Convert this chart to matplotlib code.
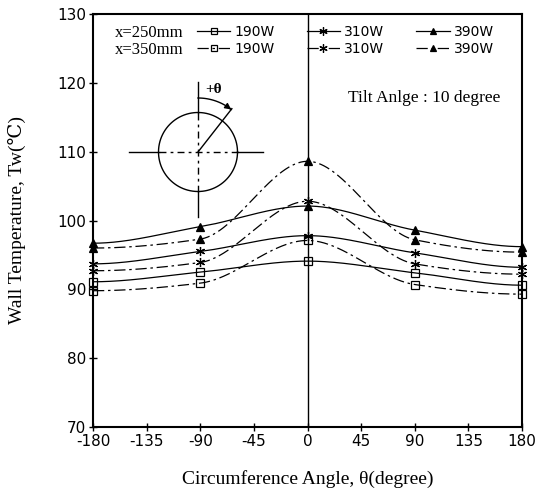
import numpy as np
import matplotlib
matplotlib.use("Agg")
import matplotlib.pyplot as plt
from matplotlib.lines import Line2D

# ---------------- data ----------------
angles = [-180, -90, 0, 90, 180]
# x = 250 mm (solid lines)
t250_190 = [91.1, 92.5, 94.1, 92.4, 90.6]
t250_310 = [93.7, 95.5, 97.8, 95.3, 93.2]
t250_390 = [96.7, 99.1, 102.1, 98.6, 96.2]
# x = 350 mm (dash-dot lines)
t350_190 = [89.8, 90.9, 97.1, 90.7, 89.3]
t350_310 = [92.7, 93.9, 102.8, 93.7, 92.2]
t350_390 = [96.0, 97.3, 108.6, 97.2, 95.4]

power_labels = ["190W", "310W", "390W"]
xticks = [-180, -135, -90, -45, 0, 45, 90, 135, 180]
yticks = [70, 80, 90, 100, 110, 120, 130]


def pchip(x, y, xs):
    """Shape-preserving cubic (for a smooth drawn curve through the points)."""
    x = np.asarray(x, float)
    y = np.asarray(y, float)
    h = np.diff(x)
    d = np.diff(y) / h
    n = len(x)
    m = np.zeros(n)
    for k in range(1, n - 1):
        if d[k - 1] * d[k] > 0:
            w1 = 2 * h[k] + h[k - 1]
            w2 = h[k] + 2 * h[k - 1]
            m[k] = (w1 + w2) / (w1 / d[k - 1] + w2 / d[k])
    out = np.empty_like(xs)
    idx = np.clip(np.searchsorted(x, xs) - 1, 0, n - 2)
    for i, xv in enumerate(xs):
        k = idx[i]
        t = (xv - x[k]) / h[k]
        h00 = 2 * t**3 - 3 * t**2 + 1
        h10 = t**3 - 2 * t**2 + t
        h01 = -2 * t**3 + 3 * t**2
        h11 = t**3 - t**2
        out[i] = h00 * y[k] + h10 * h[k] * m[k] + h01 * y[k + 1] + h11 * h[k] * m[k + 1]
    return out


W, H = 542, 495
fig = plt.figure(figsize=(W / 100, H / 100), dpi=100)
ax = fig.add_axes([93 / W, 1 - 427 / H, (522 - 93) / W, (427 - 14) / H])

dashdot = (0, (9, 3, 2, 3))
xs = np.linspace(-180, 180, 721)
asterisk = (6, 2, 0)

series = [
    (t250_190, "-", "s", "none"),
    (t250_310, "-", asterisk, "k"),
    (t250_390, "-", "^", "k"),
    (t350_190, dashdot, "s", "none"),
    (t350_310, dashdot, asterisk, "k"),
    (t350_390, dashdot, "^", "k"),
]
for vals, ls, mk, mfc in series:
    ax.plot(xs, pchip(angles, vals, xs), color="k", lw=0.9, ls=ls)
    ax.plot(angles, vals, ls="none", marker=mk, ms=5.5 if mk != asterisk else 6.5,
            mfc=mfc if mk != asterisk else "k", mec="k", mew=0.9, clip_on=False)

ax.axvline(0, color="k", lw=1.0)

ax.set_xlim(-180, 180)
ax.set_ylim(70, 130)
ax.set_xticks(xticks)
ax.set_yticks(yticks)
ax.set_xticklabels([str(v) for v in xticks])
for sp in ax.spines.values():
    sp.set_linewidth(1.5)
ax.tick_params(direction="inout", length=6, width=1.0, labelsize=11, pad=2)
for lab in ax.get_xticklabels() + ax.get_yticklabels():
    lab.set_family("DejaVu Sans")

serif = ["Liberation Serif", "DejaVu Serif", "DejaVu Sans"]
ax.set_xlabel("Circumference Angle, θ(degree)", family=serif, fontsize=14, labelpad=15)
ax.set_ylabel("Wall Temperature, Tw(℃)", family=serif, fontsize=14, labelpad=22)

# legend
handles = []
for ls, mk, mfc in [("-", "s", "none"), (dashdot, "s", "none"),
                    ("-", asterisk, "k"), (dashdot, asterisk, "k"),
                    ("-", "^", "k"), (dashdot, "^", "k")]:
    handles.append(Line2D([], [], color="k", lw=0.9, ls=ls, marker=mk,
                          ms=5 if mk != asterisk else 6, mfc=mfc, mec="k", mew=0.9))
labels = [power_labels[0], power_labels[0], power_labels[1], power_labels[1],
          power_labels[2], power_labels[2]]
leg = ax.legend(handles, labels, ncol=3, loc="upper left",
                bbox_to_anchor=(197 / W, 1 - 25 / H), bbox_transform=fig.transFigure,
                frameon=False, borderpad=0, borderaxespad=0, handlelength=2.4,
                handletextpad=0.3, columnspacing=2.3, labelspacing=0.22, numpoints=1,
                prop={"family": "DejaVu Sans", "size": 10})

fig.text(115 / W, 1 - 33 / H, "x=250mm", family=serif, fontsize=12, va="center", ha="left")
fig.text(115 / W, 1 - 50 / H, "x=350mm", family=serif, fontsize=12, va="center", ha="left")

fig.text(348 / W, 1 - 98 / H, "Tilt Anlge : 10 degree", family=serif, fontsize=12.5,
         va="center", ha="left")

# inset schematic (pixel coordinates of the figure)
x0, x1, y0, y1 = 120, 275, 70, 228
ins = fig.add_axes([x0 / W, 1 - y1 / H, (x1 - x0) / W, (y1 - y0) / H])
ins.set_xlim(x0, x1)
ins.set_ylim(y1, y0)
ins.axis("off")
cx, cy, r = 198, 152, 39.5
tt = np.linspace(0, 2 * np.pi, 200)
ins.plot(cx + r * np.cos(tt), cy + r * np.sin(tt), color="k", lw=1.0)
# center lines: solid outside, dashed inside
ins.plot([129, cx - r], [cy, cy], color="k", lw=1.0)
ins.plot([cx + r, 263], [cy, cy], color="k", lw=1.0)
ins.plot([cx - r, cx + r], [cy, cy], color="k", lw=1.0, ls=(0, (5, 3, 2, 3)))
ins.plot([cx, cx], [82, cy - r], color="k", lw=1.0)
ins.plot([cx, cx], [cy + r, 217], color="k", lw=1.0)
ins.plot([cx, cx], [cy - r, cy + r], color="k", lw=1.0, ls=(0, (5, 3, 2, 3)))
ang = np.deg2rad(38)
ins.plot([cx, cx + 55 * np.sin(ang)], [cy, cy - 55 * np.cos(ang)], color="k", lw=1.0)
ra = 54
ta = np.linspace(0, ang, 40)
ins.plot(cx + ra * np.sin(ta), cy - ra * np.cos(ta), color="k", lw=1.0)
ins.annotate("", xy=(cx + ra * np.sin(ang), cy - ra * np.cos(ang)),
             xytext=(cx + ra * np.sin(ang - 0.08), cy - ra * np.cos(ang - 0.08)),
             arrowprops=dict(arrowstyle="-|>", color="k", lw=1.0, mutation_scale=9))
ins.text(214, 89, "+θ", family=serif, fontsize=11, fontweight="bold", ha="center", va="center")

fig.savefig("out.png", dpi=100)
